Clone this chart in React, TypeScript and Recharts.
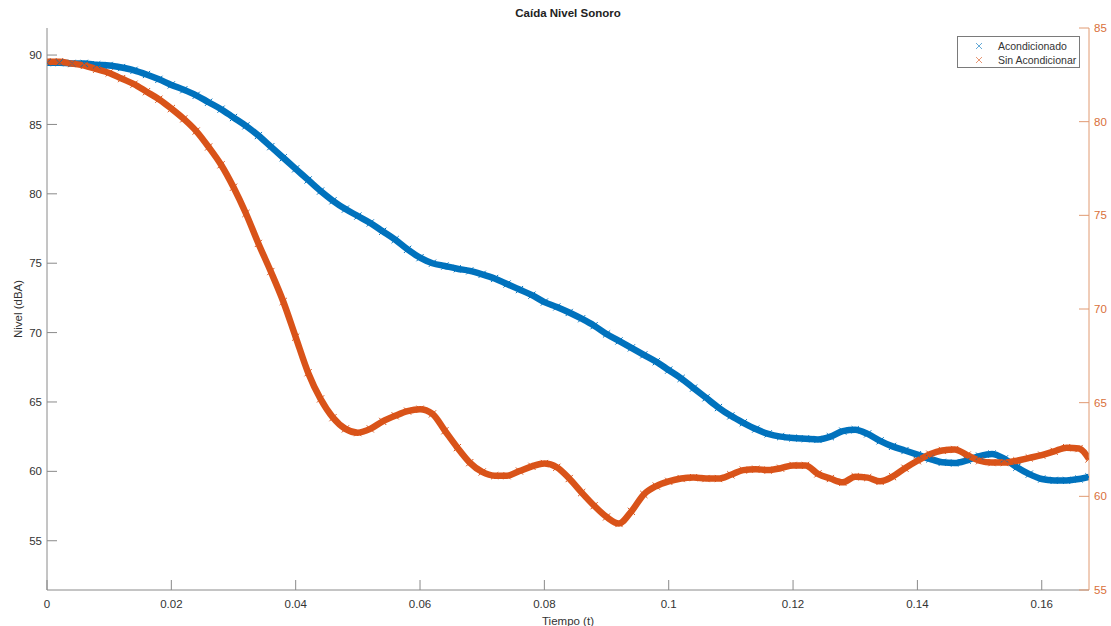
import { ComposedChart, Line, XAxis, YAxis, Legend } from "recharts";

const TIME = [
  0, 0.002, 0.004, 0.006, 0.008, 0.01, 0.012, 0.014, 0.016, 0.018,
  0.02, 0.022, 0.024, 0.026, 0.028, 0.03, 0.032, 0.034, 0.036, 0.038,
  0.04, 0.042, 0.044, 0.046, 0.048, 0.05, 0.052, 0.054, 0.056, 0.058,
  0.06, 0.062, 0.064, 0.066, 0.068, 0.07, 0.072, 0.074, 0.076, 0.078,
  0.08, 0.082, 0.084, 0.086, 0.088, 0.09, 0.092, 0.094, 0.096, 0.098,
  0.1, 0.102, 0.104, 0.106, 0.108, 0.11, 0.112, 0.114, 0.116, 0.118,
  0.12, 0.122, 0.124, 0.126, 0.128, 0.13, 0.132, 0.134, 0.136, 0.138,
  0.14, 0.142, 0.144, 0.146, 0.148, 0.15, 0.152, 0.154, 0.156, 0.158,
  0.16, 0.162, 0.164, 0.166, 0.1676,
];

// left axis (dBA)
const ACONDICIONADO = [
  89.45, 89.45, 89.4, 89.4, 89.3, 89.25, 89.1, 88.9, 88.6, 88.25,
  87.85, 87.5, 87.1, 86.6, 86.1, 85.5, 84.9, 84.2, 83.4, 82.6,
  81.8, 81.0, 80.2, 79.5, 78.9, 78.4, 77.9, 77.3, 76.7, 76.0,
  75.4, 75.0, 74.8, 74.6, 74.45, 74.2, 73.9, 73.5, 73.1, 72.7,
  72.2, 71.85, 71.45, 71.0, 70.5, 69.9, 69.4, 68.9, 68.4, 67.9,
  67.3, 66.7, 66.0, 65.3, 64.6, 64.0, 63.5, 63.05, 62.7, 62.5,
  62.4, 62.35, 62.3, 62.5, 62.9, 63.0, 62.7, 62.2, 61.8, 61.5,
  61.2, 60.9, 60.65, 60.6, 60.8, 61.1, 61.25, 60.9, 60.3, 59.8,
  59.45, 59.35, 59.35, 59.45, 59.6,
];

// right axis
const SIN_ACONDICIONAR = [
  83.2, 83.2, 83.1, 83.0, 82.8, 82.6, 82.3, 82.0, 81.6, 81.2,
  80.7, 80.15, 79.5, 78.65, 77.7, 76.5, 75.1, 73.5, 72.0, 70.4,
  68.5, 66.6, 65.2, 64.2, 63.6, 63.4, 63.6, 64.0, 64.3, 64.55,
  64.65, 64.4, 63.5, 62.6, 61.8, 61.3, 61.1, 61.1, 61.35, 61.6,
  61.75, 61.55, 60.95, 60.2, 59.5, 58.9, 58.55, 59.2, 60.1, 60.55,
  60.8, 60.95, 61.0, 60.95, 60.95, 61.15, 61.4, 61.45, 61.4, 61.5,
  61.65, 61.65, 61.2, 60.95, 60.75, 61.05, 61.0, 60.8, 61.05, 61.5,
  61.9, 62.25, 62.45, 62.5, 62.2, 61.9, 61.8, 61.8, 61.9, 62.05,
  62.2, 62.4, 62.6, 62.55, 62.0,
];

const X_TICKS = [0, 0.02, 0.04, 0.06, 0.08, 0.1, 0.12, 0.14, 0.16];
const LEFT_TICKS = [55, 60, 65, 70, 75, 80, 85, 90];
const RIGHT_TICKS = [55, 60, 65, 70, 75, 80, 85];

const BLUE = "#0072BD";
const ORANGE = "#D95319";
const AXIS = "#8a8a8a";
const TEXT = "#333333";
const FONT = '"Liberation Sans", Arial, sans-serif';

const data = TIME.map((t, i) => ({
  t,
  acond: ACONDICIONADO[i],
  sin: SIN_ACONDICIONAR[i],
}));

const crossDot = (color: string) => (props: any) => {
  const { cx, cy, index } = props;
  if (cx == null || cy == null) return <g key={index} />;
  const r = 3.6;
  return (
    <path
      key={index}
      d={`M${cx - r},${cy - r}L${cx + r},${cy + r}M${cx - r},${cy + r}L${cx + r},${cy - r}`}
      stroke={color}
      strokeWidth={1}
      fill="none"
    />
  );
};

function LegendBox() {
  const row = (color: string, label: string) => (
    <div style={{ display: "flex", alignItems: "center", height: 14, whiteSpace: "nowrap" }}>
      <svg width={40} height={12} style={{ flex: "none" }}>
        <path d="M18,3L24,9M18,9L24,3" stroke={color} strokeWidth={1} opacity={0.6} />
      </svg>
      <span>{label}</span>
    </div>
  );
  return (
    <div
      style={{
        border: "1px solid #7a7a7a",
        background: "#fff",
        width: 123,
        height: 32,
        paddingTop: 2,
        boxSizing: "border-box",
        fontFamily: FONT,
        fontSize: 10.5,
        color: TEXT,
        lineHeight: "14px",
      }}
    >
      {row(BLUE, "Acondicionado")}
      {row(ORANGE, "Sin Acondicionar")}
    </div>
  );
}

const fmtX = (v: number) => String(Number(v.toFixed(2)));

export default function App() {
  return (
    <div style={{ position: "absolute", left: 0, top: 0, width: 1111, height: 626, background: "#fff" }}>
      <div
        style={{
          position: "absolute",
          left: 47,
          width: 1042,
          top: 5,
          textAlign: "center",
          fontFamily: FONT,
          fontSize: 11.5,
          fontWeight: "bold",
          color: "#222",
          lineHeight: "16px",
        }}
      >
        Caída Nivel Sonoro
      </div>
      <ComposedChart
        width={1111}
        height={626}
        data={data}
        margin={{ top: 28, right: 0, bottom: 0, left: 0 }}
        style={{ fontFamily: FONT }}
      >
        <XAxis
          dataKey="t"
          type="number"
          domain={[0, 0.1676]}
          ticks={X_TICKS}
          tickFormatter={fmtX}
          allowDataOverflow
          height={36}
          stroke={AXIS}
          tickSize={-10}
          tickMargin={20}
          tick={{ fill: TEXT, fontSize: 11.5 }}
          label={{ value: "Tiempo (t)", position: "insideBottom", offset: 1, fill: TEXT, fontSize: 11.5 }}
        />
        <XAxis
          xAxisId="top"
          orientation="top"
          dataKey="t"
          type="number"
          domain={[0, 0.1676]}
          ticks={X_TICKS}
          tickFormatter={() => ""}
          allowDataOverflow
          height={0}
          stroke={AXIS}
          tickSize={-10}
        />
        <YAxis
          yAxisId="left"
          domain={[51.45, 91.95]}
          ticks={LEFT_TICKS}
          allowDataOverflow
          width={47}
          stroke={AXIS}
          tickSize={-10}
          tickMargin={15}
          tick={{ fill: TEXT, fontSize: 11.5 }}
          label={{ value: "Nivel (dBA)", angle: -90, position: "center", dx: -6, fill: TEXT, fontSize: 11.5 }}
        />
        <YAxis
          yAxisId="right"
          orientation="right"
          domain={[55, 85]}
          ticks={RIGHT_TICKS}
          allowDataOverflow
          width={22}
          stroke="#e09a72"
          tickSize={-10}
          tickMargin={15}
          tick={{ fill: "#d9703a", fontSize: 11.5 }}
        />
        <Legend
          layout="vertical"
          align="center"
          verticalAlign="middle"
          content={() => <LegendBox />}
          wrapperStyle={{ left: 957, top: 36, width: 123, height: 32 }}
        />
        <Line
          yAxisId="left"
          dataKey="acond"
          name="Acondicionado"
          type="monotone"
          stroke={BLUE}
          strokeWidth={6.5}
          dot={crossDot(BLUE)}
          activeDot={false}
          isAnimationActive={false}
        />
        <Line
          yAxisId="right"
          dataKey="sin"
          name="Sin Acondicionar"
          type="monotone"
          stroke={ORANGE}
          strokeWidth={6.5}
          dot={crossDot(ORANGE)}
          activeDot={false}
          isAnimationActive={false}
        />
      </ComposedChart>
    </div>
  );
}
